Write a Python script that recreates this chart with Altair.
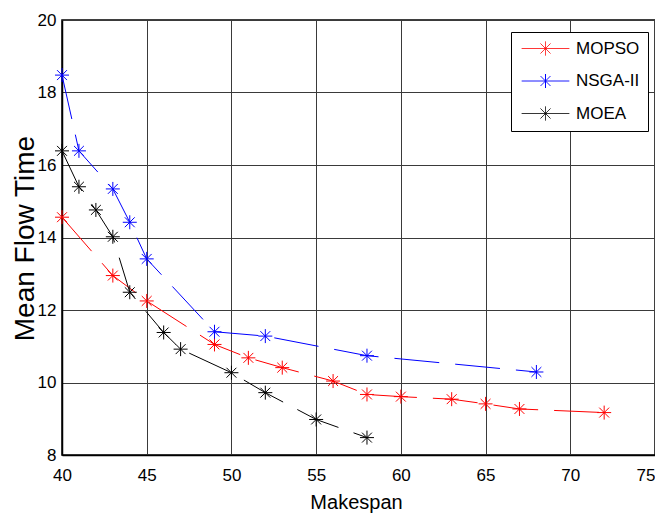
import altair as alt
import pandas as pd

series_names = ["MOPSO", "NSGA-II", "MOEA"]
series_colors = ["#ff0000", "#0000ff", "#000000"]

mopso_x = [40, 43, 45, 49, 51, 53, 56, 58, 60, 63, 65, 67, 72]
mopso_y = [14.56, 12.95, 12.25, 11.05, 10.68, 10.41, 10.04, 9.67, 9.61, 9.54, 9.41, 9.27, 9.17]

nsga_x = [40, 41, 43, 44, 45, 49, 52, 58, 68]
nsga_y = [18.48, 16.39, 15.34, 14.42, 13.41, 11.40, 11.28, 10.74, 10.29]

moea_x = [40, 41, 42, 43, 44, 46, 47, 50, 52, 55, 58]
moea_y = [16.39, 15.40, 14.76, 14.02, 12.49, 11.38, 10.92, 10.27, 9.72, 8.98, 8.48]

x_ticks = [40, 45, 50, 55, 60, 65, 70, 75]
y_ticks = [8, 10, 12, 14, 16, 18, 20]

rows = []
for name, xs, ys in [("MOPSO", mopso_x, mopso_y), ("NSGA-II", nsga_x, nsga_y), ("MOEA", moea_x, moea_y)]:
    for i, (xv, yv) in enumerate(zip(xs, ys)):
        rows.append({"series": name, "x": xv, "y": yv, "i": i})
df = pd.DataFrame(rows)

SANS = "Liberation Sans, Arial, sans-serif"
STAR = "M-1,0L1,0M0,-1L0,1M-0.707,-0.707L0.707,0.707M-0.707,0.707L0.707,-0.707"
LEG = "M-3.4,0L3.4,0M0,-1L0,1M-0.707,-0.707L0.707,0.707M-0.707,0.707L0.707,-0.707"

xenc = alt.X(
    "x:Q",
    scale=alt.Scale(domain=[40, 75], nice=False, zero=False),
    axis=alt.Axis(
        values=x_ticks, format="d", title="Makespan",
        titleFont=SANS, titleFontSize=20, titleFontWeight="normal", titleColor="black",
        titleX=294, titleY=53, titleBaseline="alphabetic", titleAlign="center",
        labelPadding=12, labelFlush=False,
        labelAlign={"condition": {"test": "datum.value == 75", "value": "right"}, "value": "center"},
    ),
)
yenc = alt.Y(
    "y:Q",
    scale=alt.Scale(domain=[8, 20], nice=False, zero=False),
    axis=alt.Axis(
        values=y_ticks, format="d", title="Mean Flow Time",
        titleFont=SANS, titleFontSize=28, titleFontWeight="normal", titleColor="black",
        titleX=-29, titleY=218, titleAngle=-90, titleBaseline="alphabetic", titleAlign="center",
        labelPadding=6, labelFlush=False,
    ),
)

legend = alt.Legend(
    title=None, orient="none", legendX=449, legendY=12,
    symbolType=LEG, symbolSize=196, symbolStrokeWidth=1, symbolOffset=18,
    symbolDash=[1, 0], symbolOpacity=1,
    labelOffset=22, labelFont=SANS, labelFontSize=17, labelColor="black",
    strokeColor="black", fillColor="white", padding=8, rowPadding=13.5,
)
color = alt.Color("series:N", scale=alt.Scale(domain=series_names, range=series_colors), legend=legend)

base = alt.Chart(df)

lines = base.mark_line(strokeWidth=1, strokeDash=[45, 16]).encode(
    x=xenc, y=yenc, color=color, order="i:Q",
)

points = base.mark_point(shape=STAR, size=196, filled=False, strokeWidth=1, opacity=1).encode(
    x=xenc, y=yenc, color=color,
)

chart = alt.layer(lines, points).properties(
    width=593, height=435,
    autosize=alt.AutoSizeParams(type="none"),
    padding={"left": 54, "top": 12, "right": 0, "bottom": 59},
).configure_axis(
    grid=True, gridColor="#3a3a3a", gridOpacity=1, gridWidth=1,
    ticks=False, domainColor="black", domainWidth=1.5,
    labelFont=SANS, labelFontSize=17, labelColor="black",
).configure_view(stroke="black", strokeWidth=1.5)

chart.save("out.html", embed_options={"renderer": "svg", "actions": False})
